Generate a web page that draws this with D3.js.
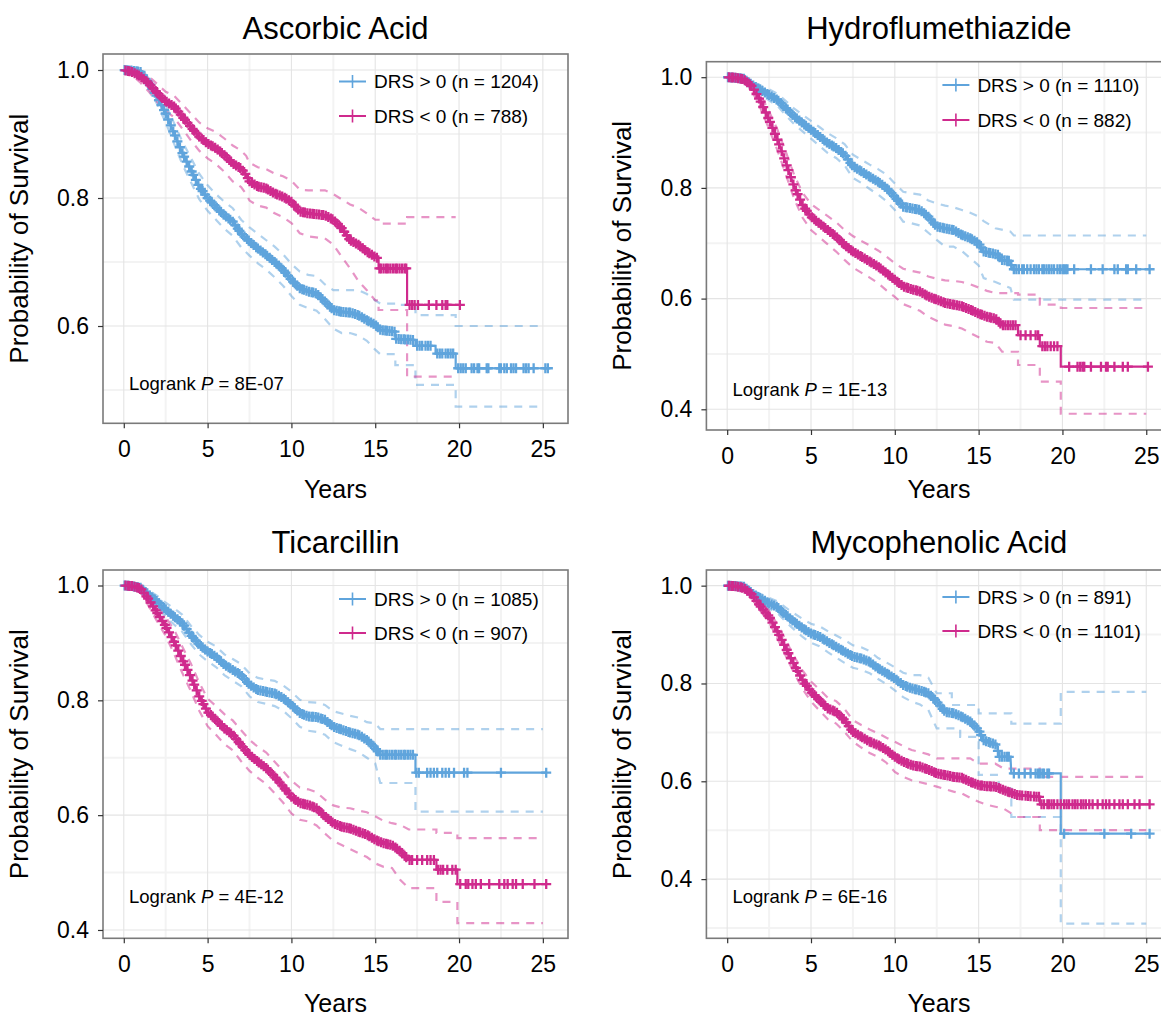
<!DOCTYPE html>
<html>
<head>
<meta charset="utf-8">
<script src="https://cdn.jsdelivr.net/npm/d3@7"></script>
<style>
  body { margin: 0; background: #fff; }
  svg { display: block; }
  text { font-family: "Liberation Sans", Arial, Helvetica, sans-serif; fill: #000; }
</style>
</head>
<body>
<svg id="chart" width="1161" height="1017"></svg>
<script>
// ---------- panel labels ----------
const panelTitles = ["Ascorbic Acid", "Hydroflumethiazide", "Ticarcillin", "Mycophenolic Acid"];
const logrankP = ["8E-07", "1E-13", "4E-12", "6E-16"];
const nPositive = [1204, 1110, 1085, 891];
const nNegative = [788, 882, 907, 1101];
const xTickValues = [0, 5, 10, 15, 20, 25];
const xMinorValues = [2.5, 7.5, 12.5, 17.5, 22.5];
const yTicksTopLeft = [0.6, 0.8, 1.0];
const yTicksOther = [0.4, 0.6, 0.8, 1.0];

// Survival curves are given as vertices (time, survival); a repeated time marks a step drop.
// Confidence limits share their own vertex times (ciTime).

// ---------- Ascorbic Acid ----------
const ascPosTime = [0,0.5,1,1.5,2,2.5,3,3.5,4,4.5,5,5.5,6,6.5,7,7.5,8,8.5,9,9.5,10,10.5,11,11.5,12,12.5,13,13.5,14,14.5,15,15.3,16.2,16.2,17.4,17.4,18.6,18.6,19.8,19.8,25.3];
const ascPosSurv = [1.0,0.999,0.997,0.979,0.958,0.932,0.901,0.870,0.844,0.818,0.800,0.786,0.773,0.763,0.745,0.732,0.721,0.711,0.700,0.688,0.672,0.659,0.654,0.651,0.638,0.625,0.622,0.621,0.617,0.609,0.602,0.594,0.591,0.580,0.578,0.569,0.569,0.557,0.557,0.534,0.534];
const ascPosCiTime = [0,0.5,1,1.5,2,2.5,3,3.5,4,4.5,5,5.5,6,6.5,7,7.5,8,8.5,9,9.5,10,10.5,11,11.5,12,12.5,13,13.5,14,14.5,15,15.3,16.2,16.2,17.4,17.4,19.8,19.8,25.0];
const ascPosUpper = [1.0,1.0,1.0,0.987,0.970,0.946,0.917,0.888,0.863,0.838,0.820,0.806,0.794,0.784,0.766,0.754,0.744,0.734,0.724,0.712,0.697,0.685,0.680,0.678,0.665,0.656,0.656,0.656,0.656,0.650,0.640,0.635,0.635,0.633,0.633,0.617,0.617,0.600,0.600];
const ascPosLower = [1.0,0.995,0.990,0.970,0.946,0.918,0.885,0.852,0.825,0.798,0.780,0.766,0.752,0.741,0.723,0.710,0.698,0.688,0.676,0.663,0.647,0.633,0.628,0.624,0.611,0.596,0.589,0.589,0.585,0.577,0.563,0.556,0.556,0.539,0.539,0.508,0.508,0.474,0.474];
const ascPosCensor = [0.05,0.2,0.3,0.45,0.6,0.75,0.85,1.0,1.15,1.3,1.4,1.55,1.7,1.85,1.95,2.1,2.25,2.4,2.5,2.65,2.8,2.95,3.05,3.2,3.35,3.5,3.6,3.75,3.9,4.05,4.15,4.3,4.45,4.6,4.7,4.85,5.0,5.15,5.25,5.4,5.55,5.7,5.8,5.95,6.1,6.25,6.35,6.5,6.65,6.8,6.9,7.05,7.2,7.35,7.45,7.6,7.75,7.9,8.0,8.15,8.3,8.45,8.55,8.7,8.85,9.0,9.1,9.25,9.4,9.55,9.65,9.8,9.95,10.1,10.2,10.35,10.5,10.65,10.75,10.9,11.05,11.2,11.3,11.45,11.6,11.75,11.85,12.0,12.15,12.3,12.4,12.55,12.7,12.85,12.95,13.1,13.25,13.4,13.5,13.65,13.8,13.95,14.05,14.2,14.35,14.5,14.6,14.75,14.9,15.05,15.15,15.3,15.45,15.6,15.7,15.85,16.0,16.15,16.25,16.4,16.55,16.7,16.8,16.95,17.1,17.25,17.5,17.65,17.8,18.0,18.15,18.3,18.7,18.85,19.0,19.2,19.35,19.5,19.65,19.95,20.1,20.25,20.4,20.75,20.9,21.1,21.2,21.65,21.75,22.4,22.5,22.7,22.85,23.1,23.25,23.4,23.85,24.0,24.15,24.45,25.15,25.3];

const ascNegTime = [0,0.5,1,1.5,2,2.5,3,3.5,4,4.5,5,5.5,6,6.5,7,7.3,7.5,8,8.5,9,9.5,10,10.5,11,12,12.5,13,13.5,14,14.5,15,15.2,15.2,16.9,16.9,20.05];
const ascNegSurv = [1.0,0.997,0.990,0.979,0.964,0.951,0.943,0.927,0.911,0.896,0.885,0.878,0.867,0.854,0.846,0.836,0.826,0.818,0.815,0.807,0.802,0.794,0.779,0.776,0.773,0.766,0.753,0.734,0.727,0.716,0.708,0.705,0.690,0.690,0.633,0.633];
const ascNegCiTime = [0,0.5,1,1.5,2,2.5,3,3.5,4,4.5,5,5.5,6,6.5,7,7.3,7.5,8,8.5,9,9.5,10,10.5,11,12,12.5,13,13.5,14,14.5,15,15.2,15.2,16.9,16.9,19.8];
const ascNegUpper = [1.0,1.0,1.0,0.990,0.978,0.966,0.960,0.946,0.932,0.918,0.909,0.903,0.893,0.882,0.874,0.866,0.855,0.848,0.845,0.838,0.834,0.827,0.813,0.812,0.812,0.806,0.798,0.790,0.785,0.776,0.766,0.766,0.760,0.760,0.770,0.770];
const ascNegLower = [1.0,0.992,0.980,0.966,0.950,0.936,0.926,0.908,0.890,0.874,0.862,0.853,0.841,0.826,0.817,0.806,0.796,0.788,0.785,0.776,0.770,0.761,0.745,0.740,0.737,0.727,0.708,0.690,0.670,0.656,0.640,0.640,0.625,0.625,0.521,0.521];
const ascNegCensor = [0.1,0.25,0.35,0.5,0.65,0.8,0.9,1.05,1.2,1.35,1.45,1.6,1.75,1.9,2.0,2.15,2.3,2.45,2.55,2.7,2.85,3.0,3.1,3.25,3.4,3.55,3.65,3.8,3.95,4.1,4.2,4.35,4.5,4.65,4.75,4.9,5.05,5.2,5.3,5.45,5.6,5.75,5.85,6.0,6.15,6.3,6.4,6.55,6.7,6.85,6.95,7.1,7.25,7.4,7.5,7.65,7.8,7.95,8.05,8.2,8.35,8.5,8.6,8.75,8.9,9.05,9.15,9.3,9.45,9.6,9.7,9.85,10.0,10.15,10.25,10.4,10.55,10.7,10.8,10.95,11.1,11.25,11.35,11.5,11.65,11.8,11.9,12.05,12.2,12.35,12.45,12.6,12.75,12.9,13.0,13.15,13.3,13.45,13.55,13.7,13.85,14.0,14.1,14.25,14.4,14.55,14.65,14.8,14.95,15.1,15.25,15.35,15.5,15.65,15.75,15.9,16.05,16.2,16.3,16.45,16.6,16.75,16.85,17.05,17.2,17.35,17.55,18.2,18.65,19.0,19.2,19.3,20.05];

// ---------- Hydroflumethiazide ----------
const hydPosTime = [0,0.5,1,1.5,2,2.5,3,3.5,4,4.5,5,5.5,6,6.5,7,7.5,8,8.5,9,9.5,10,10.5,11,11.5,12,12.5,13,13.5,14,14.5,15,15.3,16.2,16.3,16.9,17.0,25.2];
const hydPosSurv = [1.0,0.999,0.997,0.986,0.977,0.968,0.959,0.944,0.929,0.917,0.905,0.893,0.881,0.872,0.860,0.839,0.830,0.820,0.811,0.800,0.784,0.766,0.763,0.760,0.748,0.730,0.727,0.724,0.715,0.709,0.700,0.685,0.679,0.670,0.668,0.653,0.653];
const hydPosCiTime = [0,0.5,1,1.5,2,2.5,3,3.5,4,4.5,5,5.5,6,6.5,7,7.5,8,8.5,9,9.5,10,10.5,11,11.5,12,12.5,13,13.5,14,14.5,15,15.3,16,16.9,17.1,25.0];
const hydPosUpper = [1.0,1.0,1.0,0.992,0.985,0.978,0.970,0.957,0.943,0.932,0.921,0.910,0.899,0.890,0.879,0.860,0.851,0.842,0.834,0.824,0.808,0.793,0.790,0.788,0.777,0.772,0.768,0.765,0.760,0.755,0.748,0.740,0.727,0.721,0.714,0.714];
const hydPosLower = [1.0,0.996,0.992,0.979,0.968,0.958,0.948,0.931,0.915,0.902,0.889,0.876,0.863,0.854,0.841,0.818,0.809,0.798,0.788,0.776,0.760,0.739,0.736,0.732,0.719,0.706,0.694,0.694,0.686,0.673,0.660,0.637,0.630,0.619,0.598,0.598];
const hydPosCensor = [0.05,0.2,0.3,0.45,0.6,0.75,0.85,1.0,1.15,1.3,1.4,1.55,1.7,1.85,1.95,2.1,2.25,2.4,2.5,2.65,2.8,2.95,3.05,3.2,3.35,3.5,3.6,3.75,3.9,4.05,4.15,4.3,4.45,4.6,4.7,4.85,5.0,5.15,5.25,5.4,5.55,5.7,5.8,5.95,6.1,6.25,6.35,6.5,6.65,6.8,6.9,7.05,7.2,7.35,7.45,7.6,7.75,7.9,8.0,8.15,8.3,8.45,8.55,8.7,8.85,9.0,9.1,9.25,9.4,9.55,9.65,9.8,9.95,10.1,10.2,10.35,10.5,10.65,10.75,10.9,11.05,11.2,11.3,11.45,11.6,11.75,11.85,12.0,12.15,12.3,12.4,12.55,12.7,12.85,12.95,13.1,13.25,13.4,13.5,13.65,13.8,13.95,14.05,14.2,14.35,14.5,14.6,14.75,14.9,15.05,15.15,15.3,15.45,15.6,15.7,15.85,16.0,16.15,16.25,16.4,16.55,16.7,16.8,16.95,17.1,17.25,17.4,17.6,17.7,17.9,18.1,18.3,18.45,18.6,18.8,18.9,19.05,19.2,19.35,19.5,19.7,19.85,20.0,20.1,20.2,20.3,20.7,21.7,22.4,23.1,23.3,23.8,23.9,24.4,25.2];

const hydNegTime = [0,0.5,1,1.5,2,2.5,3,3.5,4,4.5,5,5.5,6,6.5,7,7.5,8,8.5,9,9.5,10,10.5,11,11.5,12,12.5,13,13.5,14,14.5,15,15.5,16,16.4,17.35,17.35,18.65,18.65,19.9,19.9,25.1];
const hydNegSurv = [1.0,0.999,0.996,0.983,0.956,0.923,0.887,0.845,0.802,0.769,0.748,0.736,0.724,0.712,0.697,0.685,0.676,0.667,0.658,0.646,0.634,0.622,0.617,0.613,0.604,0.598,0.592,0.589,0.586,0.580,0.573,0.567,0.564,0.552,0.552,0.534,0.534,0.514,0.514,0.477,0.477];
const hydNegCiTime = [0,0.5,1,1.5,2,2.5,3,3.5,4,4.5,5,5.5,6,6.5,7,7.5,8,8.5,9,9.5,10,10.5,11,11.5,12,12.5,13,13.5,14,14.5,15,15.5,16,16.4,17.35,17.35,18.65,18.65,19.9,19.9,25.0];
const hydNegUpper = [1.0,1.0,1.0,0.991,0.968,0.938,0.905,0.865,0.823,0.791,0.771,0.760,0.749,0.738,0.724,0.713,0.704,0.696,0.687,0.676,0.664,0.654,0.650,0.647,0.640,0.636,0.633,0.632,0.630,0.626,0.620,0.614,0.610,0.610,0.610,0.607,0.607,0.589,0.589,0.583,0.583];
const hydNegLower = [1.0,0.996,0.990,0.974,0.943,0.906,0.868,0.824,0.780,0.746,0.724,0.711,0.698,0.685,0.670,0.656,0.647,0.638,0.628,0.615,0.603,0.590,0.584,0.578,0.567,0.560,0.553,0.550,0.546,0.538,0.530,0.522,0.520,0.504,0.504,0.480,0.480,0.450,0.450,0.392,0.392];
const hydNegCensor = [0.1,0.25,0.35,0.5,0.65,0.8,0.9,1.05,1.2,1.35,1.45,1.6,1.75,1.9,2.0,2.15,2.3,2.45,2.55,2.7,2.85,3.0,3.1,3.25,3.4,3.55,3.65,3.8,3.95,4.1,4.2,4.35,4.5,4.65,4.75,4.9,5.05,5.2,5.3,5.45,5.6,5.75,5.85,6.0,6.15,6.3,6.4,6.55,6.7,6.85,6.95,7.1,7.25,7.4,7.5,7.65,7.8,7.95,8.05,8.2,8.35,8.5,8.6,8.75,8.9,9.05,9.15,9.3,9.45,9.6,9.7,9.85,10.0,10.15,10.25,10.4,10.55,10.7,10.8,10.95,11.1,11.25,11.35,11.5,11.65,11.8,11.9,12.05,12.2,12.35,12.45,12.6,12.75,12.9,13.0,13.15,13.3,13.45,13.55,13.7,13.85,14.0,14.1,14.25,14.4,14.55,14.65,14.8,14.95,15.1,15.2,15.35,15.5,15.65,15.75,15.9,16.05,16.2,16.3,16.45,16.6,16.75,16.9,17.05,17.2,17.5,17.8,18.1,18.4,18.55,18.8,18.95,19.1,19.3,19.5,19.7,20.4,20.9,21.06,21.2,21.3,21.7,22.3,22.6,22.7,23.1,23.6,23.9,25.1];

// ---------- Ticarcillin ----------
const ticPosTime = [0,0.5,1,1.5,2,2.5,3,3.5,4,4.5,5,5.5,6,6.5,7,7.5,8,8.5,9,9.5,10,10.5,11,11.5,12,12.5,13,13.5,14,14.5,15,15.3,17.4,17.4,25.2];
const ticPosSurv = [1.0,0.999,0.996,0.984,0.972,0.958,0.946,0.934,0.914,0.897,0.885,0.876,0.862,0.853,0.844,0.827,0.818,0.815,0.812,0.804,0.792,0.778,0.772,0.771,0.766,0.754,0.749,0.744,0.740,0.731,0.717,0.705,0.705,0.674,0.674];
const ticPosCiTime = [0,0.5,1,1.5,2,2.5,3,3.5,4,4.5,5,5.5,6,6.5,7,7.5,8,8.5,9,9.5,10,10.5,11,11.5,12,12.5,13,13.5,14,14.5,15,15.3,17.4,17.4,25.0];
const ticPosUpper = [1.0,1.0,1.0,0.991,0.982,0.970,0.960,0.949,0.930,0.914,0.902,0.894,0.880,0.872,0.863,0.847,0.839,0.836,0.834,0.826,0.815,0.801,0.797,0.796,0.792,0.781,0.777,0.773,0.770,0.762,0.760,0.750,0.750,0.750,0.750];
const ticPosLower = [1.0,0.996,0.991,0.976,0.962,0.946,0.932,0.919,0.898,0.880,0.868,0.858,0.844,0.834,0.825,0.807,0.797,0.794,0.790,0.782,0.769,0.754,0.747,0.745,0.740,0.727,0.721,0.715,0.710,0.700,0.690,0.656,0.656,0.606,0.606];
const ticPosCensor = [0.05,0.2,0.3,0.45,0.6,0.75,0.85,1.0,1.15,1.3,1.4,1.55,1.7,1.85,1.95,2.1,2.25,2.4,2.5,2.65,2.8,2.95,3.05,3.2,3.35,3.5,3.6,3.75,3.9,4.05,4.15,4.3,4.45,4.6,4.7,4.85,5.0,5.15,5.25,5.4,5.55,5.7,5.8,5.95,6.1,6.25,6.35,6.5,6.65,6.8,6.9,7.05,7.2,7.35,7.45,7.6,7.75,7.9,8.0,8.15,8.3,8.45,8.55,8.7,8.85,9.0,9.1,9.25,9.4,9.55,9.65,9.8,9.95,10.1,10.2,10.35,10.5,10.65,10.75,10.9,11.05,11.2,11.3,11.45,11.6,11.75,11.85,12.0,12.15,12.3,12.4,12.55,12.7,12.85,12.95,13.1,13.25,13.4,13.5,13.65,13.8,13.95,14.05,14.2,14.35,14.5,14.6,14.75,14.9,15.05,15.15,15.3,15.45,15.6,15.7,15.85,16.0,16.15,16.25,16.4,16.55,16.7,16.8,16.95,17.1,17.25,17.45,17.6,18.1,18.3,18.5,18.7,19.0,19.2,19.4,19.7,20.3,20.5,22.5,25.2];

const ticNegTime = [0,0.5,1,1.5,2,2.5,3,3.5,4,4.5,5,5.5,6,6.5,7,7.5,8,8.5,9,9.5,10,10.5,11,11.5,12,12.5,13,13.5,14,14.5,15,15.5,16,16.5,17.0,18.65,18.65,19.9,19.9,25.2];
const ticNegSurv = [1.0,0.999,0.995,0.975,0.952,0.929,0.902,0.871,0.841,0.807,0.780,0.766,0.751,0.740,0.722,0.705,0.693,0.682,0.667,0.650,0.632,0.621,0.618,0.612,0.598,0.586,0.580,0.577,0.571,0.566,0.557,0.551,0.548,0.537,0.522,0.522,0.505,0.505,0.480,0.480];
const ticNegCiTime = [0,0.5,1,1.5,2,2.5,3,3.5,4,4.5,5,5.5,6,6.5,7,7.5,8,8.5,9,9.5,10,10.5,11,11.5,12,12.5,13,13.5,14,14.5,15,15.5,16,16.5,17.0,18.65,18.65,19.9,19.9,25.0];
const ticNegUpper = [1.0,1.0,1.0,0.985,0.966,0.945,0.923,0.893,0.864,0.831,0.803,0.790,0.776,0.765,0.748,0.731,0.719,0.709,0.693,0.677,0.660,0.648,0.645,0.640,0.627,0.617,0.613,0.612,0.608,0.605,0.598,0.590,0.586,0.583,0.575,0.575,0.569,0.569,0.560,0.560];
const ticNegLower = [1.0,0.996,0.989,0.963,0.937,0.912,0.881,0.847,0.816,0.782,0.755,0.740,0.724,0.713,0.694,0.677,0.665,0.654,0.638,0.622,0.603,0.592,0.589,0.582,0.568,0.555,0.548,0.541,0.534,0.527,0.516,0.510,0.508,0.487,0.473,0.473,0.449,0.449,0.412,0.412];
const ticNegCensor = [0.1,0.25,0.35,0.5,0.65,0.8,0.9,1.05,1.2,1.35,1.45,1.6,1.75,1.9,2.0,2.15,2.3,2.45,2.55,2.7,2.85,3.0,3.1,3.25,3.4,3.55,3.65,3.8,3.95,4.1,4.2,4.35,4.5,4.65,4.75,4.9,5.05,5.2,5.3,5.45,5.6,5.75,5.85,6.0,6.15,6.3,6.4,6.55,6.7,6.85,6.95,7.1,7.25,7.4,7.5,7.65,7.8,7.95,8.05,8.2,8.35,8.5,8.6,8.75,8.9,9.05,9.15,9.3,9.45,9.6,9.7,9.85,10.0,10.15,10.25,10.4,10.55,10.7,10.8,10.95,11.1,11.25,11.35,11.5,11.65,11.8,11.9,12.05,12.2,12.35,12.45,12.6,12.75,12.9,13.0,13.15,13.3,13.45,13.55,13.7,13.85,14.0,14.1,14.25,14.4,14.55,14.65,14.8,14.95,15.1,15.2,15.35,15.5,15.65,15.75,15.9,16.05,16.2,16.3,16.45,16.6,16.75,16.85,17.05,17.2,17.5,17.8,18.1,18.3,18.5,18.75,18.9,19.05,19.3,19.6,19.8,20.07,20.4,20.55,20.8,21.0,21.3,21.8,22.4,22.7,22.9,23.2,23.4,23.8,24.5,25.2];

// ---------- Mycophenolic Acid ----------
const mycPosTime = [0,0.5,1,1.5,2,2.5,3,3.5,4,4.5,5,5.5,6,6.5,7,7.5,8,8.5,9,9.5,10,10.5,11,11.5,12,12.5,13,13.5,14,14.5,15,15.3,16.1,16.2,16.9,16.95,19.9,19.9,25.2];
const mycPosSurv = [1.0,0.999,0.998,0.984,0.974,0.964,0.956,0.940,0.926,0.913,0.902,0.896,0.885,0.875,0.865,0.855,0.851,0.844,0.831,0.821,0.810,0.797,0.790,0.786,0.780,0.763,0.742,0.739,0.732,0.722,0.705,0.684,0.674,0.650,0.650,0.616,0.616,0.493,0.493];
const mycPosCiTime = [0,0.5,1,1.5,2,2.5,3,3.5,4,4.5,5,5.5,6,6.5,7,7.5,8,8.5,9,9.5,10,10.5,11,11.5,12,12.5,13.4,13.4,13.9,13.9,15.0,15.0,16.2,16.2,16.95,16.95,19.9,19.9,25.0];
const mycPosUpper = [1.0,1.0,1.0,0.991,0.983,0.975,0.968,0.955,0.943,0.932,0.922,0.917,0.907,0.898,0.889,0.878,0.874,0.866,0.852,0.843,0.833,0.822,0.817,0.817,0.812,0.780,0.780,0.756,0.756,0.756,0.756,0.739,0.739,0.739,0.739,0.718,0.718,0.783,0.783];
const mycPosLower = [1.0,0.997,0.994,0.977,0.965,0.953,0.944,0.926,0.910,0.895,0.883,0.876,0.864,0.853,0.842,0.832,0.828,0.821,0.809,0.799,0.786,0.772,0.763,0.757,0.746,0.708,0.708,0.708,0.708,0.691,0.691,0.613,0.613,0.585,0.585,0.527,0.527,0.309,0.309];
const mycPosCensor = [0.05,0.2,0.3,0.45,0.6,0.75,0.85,1.0,1.15,1.3,1.4,1.55,1.7,1.85,1.95,2.1,2.25,2.4,2.5,2.65,2.8,2.95,3.05,3.2,3.35,3.5,3.6,3.75,3.9,4.05,4.15,4.3,4.45,4.6,4.7,4.85,5.0,5.15,5.25,5.4,5.55,5.7,5.8,5.95,6.1,6.25,6.35,6.5,6.65,6.8,6.9,7.05,7.2,7.35,7.45,7.6,7.75,7.9,8.0,8.15,8.3,8.45,8.55,8.7,8.85,9.0,9.1,9.25,9.4,9.55,9.65,9.8,9.95,10.1,10.2,10.35,10.5,10.65,10.75,10.9,11.05,11.2,11.3,11.45,11.6,11.75,11.85,12.0,12.15,12.3,12.4,12.55,12.7,12.85,12.95,13.1,13.25,13.4,13.5,13.65,13.8,13.95,14.05,14.2,14.35,14.5,14.6,14.75,14.9,15.05,15.15,15.3,15.45,15.6,15.7,15.85,16.0,16.15,16.25,16.4,16.55,16.7,16.8,17.1,17.4,17.75,18.1,18.4,18.55,18.65,18.8,18.9,19.1,19.2,20.1,22.5,24.1,25.2];

const mycNegTime = [0,0.5,1,1.5,2,2.5,3,3.5,4,4.5,5,5.5,6,6.5,7,7.5,8,8.5,9,9.5,10,10.5,11,11.5,12,12.5,13,13.5,14,14.5,15,15.5,16,16.5,17.3,18.65,18.65,25.2];
const mycNegSurv = [1.0,0.999,0.995,0.981,0.957,0.937,0.906,0.872,0.838,0.807,0.783,0.766,0.749,0.742,0.725,0.701,0.691,0.681,0.674,0.664,0.650,0.640,0.633,0.630,0.624,0.616,0.613,0.609,0.607,0.599,0.592,0.590,0.589,0.582,0.572,0.568,0.553,0.553];
const mycNegCiTime = [0,0.5,1,1.5,2,2.5,3,3.5,4,4.5,5,5.5,6,6.5,7,7.5,8,8.5,9,9.5,10,10.5,11,11.5,12,12.5,13,13.5,14,14.5,15,15.5,16,16.5,17.3,18.65,18.65,25.0];
const mycNegUpper = [1.0,1.0,1.0,0.989,0.967,0.949,0.920,0.888,0.855,0.826,0.804,0.788,0.771,0.764,0.748,0.725,0.715,0.706,0.698,0.689,0.681,0.672,0.664,0.660,0.655,0.647,0.647,0.647,0.647,0.647,0.636,0.636,0.636,0.626,0.626,0.626,0.609,0.609];
const mycNegLower = [1.0,0.997,0.990,0.972,0.947,0.925,0.892,0.856,0.821,0.789,0.763,0.745,0.727,0.718,0.701,0.681,0.669,0.658,0.650,0.638,0.619,0.609,0.602,0.598,0.594,0.589,0.584,0.579,0.575,0.566,0.558,0.552,0.548,0.544,0.527,0.527,0.500,0.500];
const mycNegCensor = [0.1,0.25,0.35,0.5,0.65,0.8,0.9,1.05,1.2,1.35,1.45,1.6,1.75,1.9,2.0,2.15,2.3,2.45,2.55,2.7,2.85,3.0,3.1,3.25,3.4,3.55,3.65,3.8,3.95,4.1,4.2,4.35,4.5,4.65,4.75,4.9,5.05,5.2,5.3,5.45,5.6,5.75,5.85,6.0,6.15,6.3,6.4,6.55,6.7,6.85,6.95,7.1,7.25,7.4,7.5,7.65,7.8,7.95,8.05,8.2,8.35,8.5,8.6,8.75,8.9,9.05,9.15,9.3,9.45,9.6,9.7,9.85,10.0,10.15,10.25,10.4,10.55,10.7,10.8,10.95,11.1,11.25,11.35,11.5,11.65,11.8,11.9,12.05,12.2,12.35,12.45,12.6,12.75,12.9,13.0,13.15,13.3,13.45,13.55,13.7,13.85,14.0,14.1,14.25,14.4,14.55,14.65,14.8,14.95,15.1,15.2,15.35,15.5,15.65,15.75,15.9,16.05,16.2,16.3,16.45,16.6,16.75,16.85,17.0,17.15,17.3,17.45,17.6,17.8,17.95,18.1,18.3,18.45,18.6,18.75,18.9,19.1,19.2,19.35,19.5,19.7,19.9,20.1,20.25,20.4,20.6,20.75,20.9,21.1,21.25,21.4,21.6,21.8,22.1,22.4,22.6,22.8,23.1,23.4,23.6,23.9,24.3,24.6,25.2];

// ---------- styling ----------
const COLOR_POS = "#5fa4dc";
const COLOR_NEG = "#cf2a8d";
const FONT = '"Liberation Sans", Arial, Helvetica, sans-serif';

function series(time, surv, ciTime, lower, upper, censor) {
  return { time, surv, ciTime, lower, upper, censor };
}

const panelSeries = [
  [series(ascPosTime, ascPosSurv, ascPosCiTime, ascPosLower, ascPosUpper, ascPosCensor),
   series(ascNegTime, ascNegSurv, ascNegCiTime, ascNegLower, ascNegUpper, ascNegCensor)],
  [series(hydPosTime, hydPosSurv, hydPosCiTime, hydPosLower, hydPosUpper, hydPosCensor),
   series(hydNegTime, hydNegSurv, hydNegCiTime, hydNegLower, hydNegUpper, hydNegCensor)],
  [series(ticPosTime, ticPosSurv, ticPosCiTime, ticPosLower, ticPosUpper, ticPosCensor),
   series(ticNegTime, ticNegSurv, ticNegCiTime, ticNegLower, ticNegUpper, ticNegCensor)],
  [series(mycPosTime, mycPosSurv, mycPosCiTime, mycPosLower, mycPosUpper, mycPosCensor),
   series(mycNegTime, mycNegSurv, mycNegCiTime, mycNegLower, mycNegUpper, mycNegCensor)]
];

// panel frames: left, right, top, bottom in pixels, plus the y range shown
const frames = [
  { L: 103,   R: 568,    T: 54,   B: 423.3, yDom: [0.448, 1.025],  yTicks: yTicksTopLeft, yMinor: [0.5, 0.7, 0.9],      legY: [81.5, 116], pY: 390, titleY: 39,  xTitleY: 498 },
  { L: 706.4, R: 1171.4, T: 61.7, B: 430,   yDom: [0.3626, 1.028], yTicks: yTicksOther,   yMinor: [0.5, 0.7, 0.9],      legY: [85, 120],   pY: 396, titleY: 39,  xTitleY: 498 },
  { L: 103,   R: 568,    T: 570,  B: 938.3, yDom: [0.3855, 1.027], yTicks: yTicksOther,   yMinor: [0.5, 0.7, 0.9],      legY: [599, 633],  pY: 903, titleY: 553, xTitleY: 1011.5 },
  { L: 706.4, R: 1171.4, T: 570,  B: 938.3, yDom: [0.279, 1.032],  yTicks: yTicksOther,   yMinor: [0.3, 0.5, 0.7, 0.9], legY: [597, 631],  pY: 903, titleY: 553, xTitleY: 1011.5 }
];

const svg = d3.select("#chart");
svg.append("rect").attr("width", 1161).attr("height", 1017).attr("fill", "#fff");

// survival value on the drawn curve at time t
function curveValue(s, t) {
  const i = d3.bisectRight(s.time, t) - 1;
  if (i < 0) return s.surv[0];
  if (i >= s.time.length - 1) return s.surv[s.surv.length - 1];
  const t0 = s.time[i], t1 = s.time[i + 1];
  const f = t1 > t0 ? (t - t0) / (t1 - t0) : 0;
  return s.surv[i] + f * (s.surv[i + 1] - s.surv[i]);
}

frames.forEach((f, pi) => {
  const x = d3.scaleLinear().domain([-1.24, 26.5]).range([f.L, f.R]);
  const y = d3.scaleLinear().domain(f.yDom).range([f.B, f.T]);
  const g = svg.append("g");

  const clipId = "clip" + pi;
  g.append("clipPath").attr("id", clipId)
    .append("rect").attr("x", f.L).attr("y", f.T).attr("width", f.R - f.L).attr("height", f.B - f.T);

  // grid: minor then major
  const grid = g.append("g");
  xMinorValues.forEach(v => grid.append("line")
    .attr("x1", x(v)).attr("x2", x(v)).attr("y1", f.T).attr("y2", f.B)
    .attr("stroke", "#f3f3f3").attr("stroke-width", 2));
  f.yMinor.forEach(v => grid.append("line")
    .attr("x1", f.L).attr("x2", f.R).attr("y1", y(v)).attr("y2", y(v))
    .attr("stroke", "#f3f3f3").attr("stroke-width", 2));
  xTickValues.forEach(v => grid.append("line")
    .attr("x1", x(v)).attr("x2", x(v)).attr("y1", f.T).attr("y2", f.B)
    .attr("stroke", "#e4e4e4").attr("stroke-width", 1.1));
  f.yTicks.forEach(v => grid.append("line")
    .attr("x1", f.L).attr("x2", f.R).attr("y1", y(v)).attr("y2", y(v))
    .attr("stroke", "#e4e4e4").attr("stroke-width", 1.1));

  const plot = g.append("g").attr("clip-path", `url(#${clipId})`);
  const colors = [COLOR_POS, COLOR_NEG];
  const path = d3.line().x(d => x(d[0])).y(d => y(d[1]));
  const seriesList = panelSeries[pi];

  // dashed confidence limits
  seriesList.forEach((s, si) => {
    ["lower", "upper"].forEach(k => {
      const pts = s.ciTime.map((t, i) => [t, s[k][i]]);
      plot.append("path").attr("d", path(pts))
        .attr("fill", "none").attr("stroke", colors[si]).attr("stroke-opacity", 0.5)
        .attr("stroke-width", 2.2).attr("stroke-dasharray", "8,7");
    });
  });

  // survival curves
  seriesList.forEach((s, si) => {
    const pts = s.time.map((t, i) => [t, s.surv[i]]);
    plot.append("path").attr("d", path(pts))
      .attr("fill", "none").attr("stroke", colors[si]).attr("stroke-width", 2.2);
  });

  // censoring marks
  seriesList.forEach((s, si) => {
    plot.append("g").selectAll("path").data(s.censor).join("path")
      .attr("transform", c => `translate(${x(c)},${y(curveValue(s, c))})`)
      .attr("d", "M-5,0H5M0,-5V5")
      .attr("stroke", colors[si]).attr("stroke-width", 2.3).attr("fill", "none");
  });

  // frame
  g.append("rect").attr("x", f.L).attr("y", f.T).attr("width", f.R - f.L).attr("height", f.B - f.T)
    .attr("fill", "none").attr("stroke", "#7a7a7a").attr("stroke-width", 1.6);

  // axes
  const xAxis = g.append("g").attr("transform", `translate(0,${f.B})`)
    .call(d3.axisBottom(x).tickValues(xTickValues).tickFormat(d3.format("d")).tickSize(5).tickPadding(12.5));
  const yAxis = g.append("g").attr("transform", `translate(${f.L},0)`)
    .call(d3.axisLeft(y).tickValues(f.yTicks).tickFormat(d3.format(".1f")).tickSize(5).tickPadding(9));
  [xAxis, yAxis].forEach(a => {
    a.select(".domain").remove();
    a.selectAll(".tick line").attr("stroke", "#333").attr("stroke-width", 1.2);
    a.selectAll("text").attr("font-family", FONT).attr("font-size", 23).attr("fill", "#000");
  });

  const cx = (f.L + f.R) / 2;
  g.append("text").attr("x", cx).attr("y", f.titleY).attr("text-anchor", "middle")
    .attr("font-size", 31).text(panelTitles[pi]);
  g.append("text").attr("x", cx).attr("y", f.xTitleY).attr("text-anchor", "middle")
    .attr("font-size", 25).text("Years");
  g.append("text").attr("transform", `translate(${f.L - 75},${(f.T + f.B) / 2}) rotate(-90)`)
    .attr("text-anchor", "middle").attr("font-size", 26).text("Probability of Survival");

  // legend
  const labels = [`DRS > 0 (n = ${nPositive[pi]})`, `DRS < 0 (n = ${nNegative[pi]})`];
  labels.forEach((lab, si) => {
    const ly = f.legY[si];
    const kx = f.L + 236;
    g.append("line").attr("x1", kx).attr("x2", kx + 27).attr("y1", ly).attr("y2", ly)
      .attr("stroke", colors[si]).attr("stroke-width", 2);
    g.append("line").attr("x1", kx + 13.5).attr("x2", kx + 13.5).attr("y1", ly - 6.5).attr("y2", ly + 6.5)
      .attr("stroke", colors[si]).attr("stroke-width", 1.6);
    g.append("text").attr("x", f.L + 271).attr("y", ly).attr("dy", "0.36em")
      .attr("font-size", 19).text(lab);
  });

  // logrank p-value
  const pt = g.append("text").attr("x", f.L + 26).attr("y", f.pY).attr("font-size", 18.5);
  pt.append("tspan").text("Logrank ");
  pt.append("tspan").attr("font-style", "italic").text("P");
  pt.append("tspan").text(" = " + logrankP[pi]);
});
</script>
</body>
</html>
